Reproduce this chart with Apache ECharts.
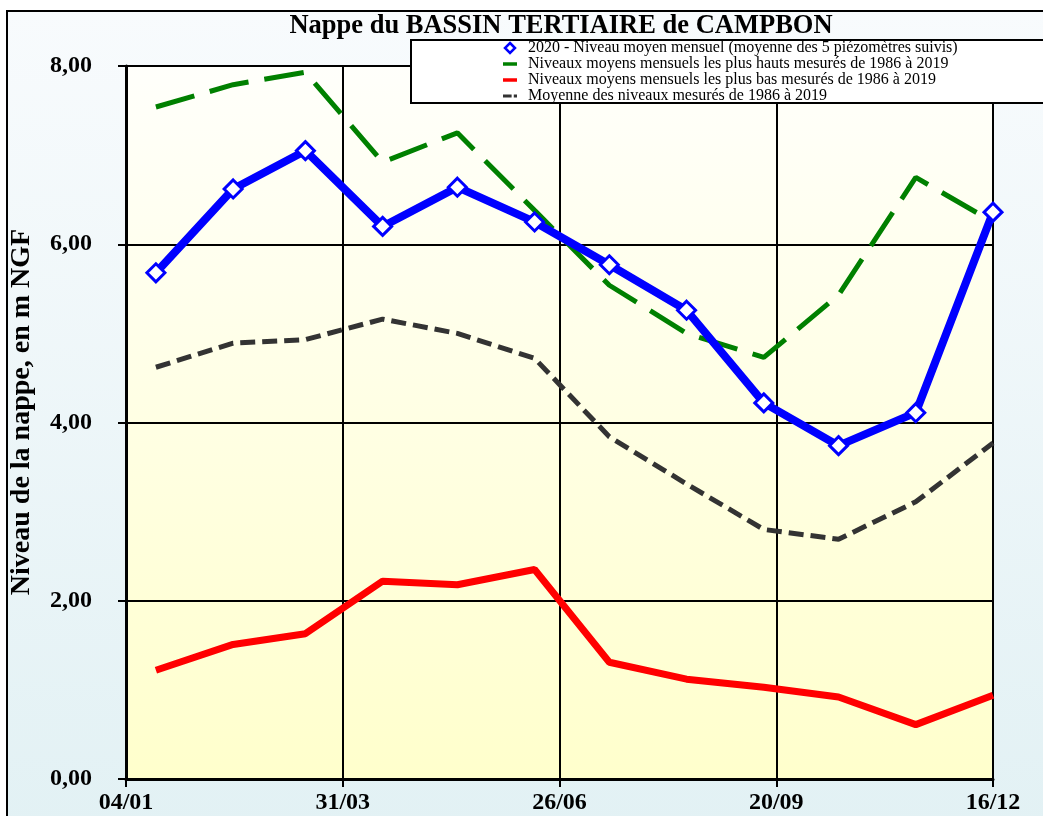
<!DOCTYPE html>
<html>
<head>
<meta charset="utf-8">
<script src="https://cdn.jsdelivr.net/npm/echarts@6/dist/echarts.min.js"></script>
<style>
  html, body { margin: 0; padding: 0; background: #fff; }
  #chart { width: 1043px; height: 816px; }
</style>
</head>
<body>
<div id="chart"></div>
<script>
// x = days since 04/01, one reading per month (mid-month)
const tickLabels = ["04/01", "31/03", "26/06", "20/09", "16/12"];
const monthX = [12, 43, 72, 103, 133, 164, 194, 225, 256, 286, 317, 348];

const niveau2020 = [5.68, 6.62, 7.05, 6.20, 6.64, 6.25, 5.77, 5.26, 4.22, 3.74, 4.11, 6.36];
const plusHauts = [7.54, 7.79, 7.93, 6.92, 7.25, 6.38, 5.54, 5.00, 4.73, 5.43, 6.75, 6.25];
const plusBas = [1.22, 1.51, 1.63, 2.22, 2.18, 2.35, 1.31, 1.12, 1.03, 0.92, 0.61, 0.94];
const moyenne = [4.62, 4.89, 4.93, 5.16, 5.00, 4.72, 3.84, 3.31, 2.80, 2.69, 3.11, 3.77];

const seriesNames = [
  "2020 - Niveau moyen mensuel (moyenne des 5 piézomètres suivis)",
  "Niveaux moyens mensuels les plus hauts mesurés de 1986 à 2019",
  "Niveaux moyens mensuels les plus bas mesurés de 1986 à 2019",
  "Moyenne des niveaux mesurés de 1986 à 2019",
];

const serif = "Liberation Serif";
const pairs = (vals) => vals.map((v, i) => [monthX[i], v]);

const chart = echarts.init(document.getElementById("chart"), null, { renderer: "canvas" });

chart.setOption({
  animation: false,
  backgroundColor: "#ffffff",
  graphic: [
    {
      type: "rect",
      z: -5,
      shape: { x: 7, y: 11, width: 1050, height: 820 },
      style: {
        fill: new echarts.graphic.LinearGradient(0, 0, 0, 1, [
          { offset: 0, color: "#f8fbfd" },
          { offset: 1, color: "#e2f1f4" },
        ]),
        stroke: "#000",
        lineWidth: 2,
      },
    },
    {
      type: "text",
      z: 5,
      x: 561,
      y: 26,
      style: {
        text: "Nappe du BASSIN TERTIAIRE de CAMPBON",
        font: "bold 26.5px 'Liberation Serif'",
        fill: "#000",
        align: "center",
        verticalAlign: "middle",
      },
    },
    {
      type: "text",
      z: 5,
      x: 22,
      y: 412,
      rotation: Math.PI / 2,
      style: {
        text: "Niveau de la nappe, en m NGF",
        font: "bold 28px 'Liberation Serif'",
        fill: "#000",
        align: "center",
        verticalAlign: "middle",
      },
    },
    {
      type: "rect",
      z: 3,
      shape: { x: 411, y: 40, width: 650, height: 63 },
      style: { fill: "#ffffff", stroke: "#000", lineWidth: 2 },
    },
  ],
  legend: {
    z: 6,
    orient: "vertical",
    left: 503,
    top: 40,
    padding: 0,
    itemWidth: 14,
    itemHeight: 10,
    itemGap: 0,
    textStyle: {
      fontFamily: serif,
      fontSize: 16,
      lineHeight: 16,
      color: "#000",
      padding: [0, 0, 0, 6],
    },
    data: [
      {
        name: seriesNames[0],
        icon: "path://M5,0L10,5L5,10L0,5Z",
        itemStyle: { color: "#ffffff", borderColor: "#0000ff", borderWidth: 2.5 },
      },
      {
        name: seriesNames[1],
        icon: "path://M0,0h12v3h-12z",
        itemStyle: { color: "#008000", borderWidth: 0 },
      },
      {
        name: seriesNames[2],
        icon: "path://M0,0h12v3h-12z",
        itemStyle: { color: "#ff0000", borderWidth: 0 },
      },
      {
        name: seriesNames[3],
        icon: "path://M0,0h8v3h-8z M10,0h3v3h-3z",
        itemStyle: { color: "#333333", borderWidth: 0 },
      },
    ],
  },
  grid: {
    left: 126,
    right: 50,
    top: 66,
    bottom: 37,
    show: true,
    borderWidth: 0,
    backgroundColor: new echarts.graphic.LinearGradient(0, 0, 0, 1, [
      { offset: 0, color: "#fffffb" },
      { offset: 1, color: "#ffffcc" },
    ]),
  },
  xAxis: {
    type: "value",
    min: 0,
    max: 348,
    interval: 87,
    axisLine: { show: true, lineStyle: { color: "#000", width: 3 } },
    axisTick: { show: true, length: 8, lineStyle: { color: "#000", width: 2 } },
    axisLabel: {
      margin: 12,
      fontFamily: serif,
      fontWeight: "bold",
      fontSize: 24,
      color: "#000",
      formatter: (v) => tickLabels[Math.round(v / 87)],
    },
    splitLine: { show: true, lineStyle: { color: "#000", width: 2 } },
  },
  yAxis: {
    type: "value",
    min: 0,
    max: 8,
    interval: 2,
    axisLine: { show: true, lineStyle: { color: "#000", width: 3 } },
    axisTick: { show: true, length: 8, lineStyle: { color: "#000", width: 2 } },
    axisLabel: {
      margin: 34,
      fontFamily: serif,
      fontWeight: "bold",
      fontSize: 24,
      color: "#000",
      formatter: (v) => v.toFixed(2).replace(".", ","),
    },
    splitLine: { show: true, lineStyle: { color: "#000", width: 2 } },
  },
  series: [
    {
      name: seriesNames[1],
      type: "line",
      z: 2,
      data: pairs(plusHauts),
      symbol: "none",
      itemStyle: { color: "#008000" },
      lineStyle: { color: "#008000", width: 5, type: [40, 16] },
    },
    {
      name: seriesNames[3],
      type: "line",
      z: 2,
      data: pairs(moyenne),
      symbol: "none",
      itemStyle: { color: "#333333" },
      lineStyle: { color: "#333333", width: 5, type: [15, 7] },
    },
    {
      name: seriesNames[2],
      type: "line",
      z: 2,
      data: pairs(plusBas),
      symbol: "none",
      itemStyle: { color: "#ff0000" },
      lineStyle: { color: "#ff0000", width: 7 },
    },
    {
      name: seriesNames[0],
      type: "line",
      z: 3,
      data: pairs(niveau2020),
      symbol: "diamond",
      symbolSize: 18,
      itemStyle: { color: "#ffffff", borderColor: "#0000ff", borderWidth: 3 },
      lineStyle: { color: "#0000ff", width: 8 },
    },
  ],
});
</script>
</body>
</html>
